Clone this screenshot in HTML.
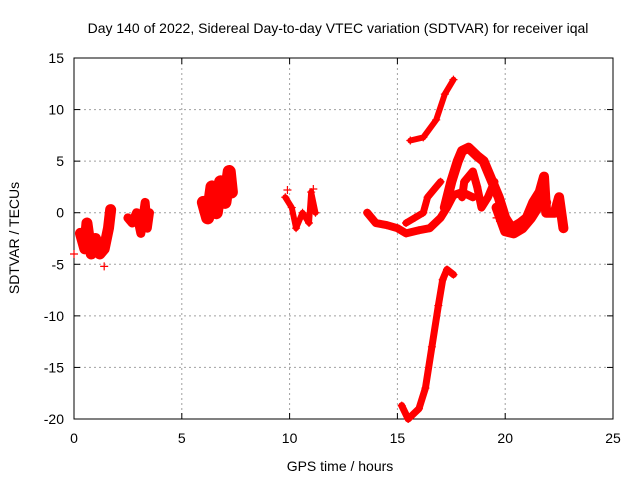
<!DOCTYPE html>
<html><head><meta charset="utf-8"><style>
body{margin:0;background:#fff}
svg{display:block;font-family:"Liberation Sans",sans-serif}
</style></head><body>
<svg id="c" width="640" height="480"></svg>
<script>
const xTicks=[0,5,10,15,20,25];
const yTicks=[15,10,5,0,-5,-10,-15,-20];
const early=[[0.3,-2],[0.5,-3.5],[0.6,-1],[0.8,-4],[1.0,-2.5],[1.2,-4],[1.4,-3.5],[1.6,-1.5],[1.7,0.3]];
const early2=[[2.5,-0.5],[2.7,-1],[2.9,0],[3.1,-2],[3.3,1],[3.4,-1.5],[3.5,0]];
const morning=[[6,1],[6.2,-0.5],[6.4,2.5],[6.6,0],[6.8,3],[7,1],[7.2,4],[7.3,2]];
const midday=[[9.8,1.5],[10.1,0.5],[10.3,-1.5],[10.6,0],[10.9,-1],[11,2],[11.2,0]];
const lowBand=[[13.6,0],[14,-1],[14.5,-1.2],[15,-1.5],[15.4,-2],[16,-1.7],[16.5,-1.5],[17,-0.5],[17.3,0.5],[17.6,1.7],[18,2],[18.5,1.5]];
const upperBand=[[15.4,-1],[15.8,-0.5],[16.2,0],[16.4,1.5],[16.8,2.5],[17,3]];
const mainArc=[[17.2,0.5],[17.5,3],[17.8,5],[18,6],[18.3,6.3],[18.7,5.5],[19,5],[19.4,3],[19.7,1.5],[20,-0.5],[20.3,-1.5],[20.7,-1],[21,-0.5],[21.3,1],[21.6,2],[21.8,3.5],[21.9,0],[22.3,0],[22.5,1.5],[22.7,-1.5]];
const lateBand=[[19.6,0.5],[20,-1.8],[20.4,-2],[20.8,-1.5],[21.2,-0.5],[21.5,0.5],[21.9,1]];
const innerLoop=[[18,1.5],[18.1,3],[18.5,4],[18.7,2.5],[18.9,0.5],[19.2,1.5],[19.5,3]];
const topArc=[[15.6,7],[16.2,7.3],[16.8,9],[17.2,11.5],[17.6,12.9]];
const deepArc=[[15.2,-18.7],[15.5,-20],[16,-19],[16.3,-17],[16.6,-13],[16.9,-9],[17.1,-6.5],[17.3,-5.5],[17.6,-6]];
const singles=[[0,-4],[1.4,-5.2],[9.9,2.2],[11.1,2.3],[19.6,-0.5]];
const series=[[early,11],[early2,9],[morning,13],[midday,6],[lowBand,8],[upperBand,7],[mainArc,10],[lateBand,10],[innerLoop,8],[topArc,6],[deepArc,7]];

const X0=74,X1=613,Y0=419,Y1=58;
const sx=h=>X0+(h-0)/25*(X1-X0);
const sy=v=>Y0-(v+20)/35*(Y0-Y1);
const svg=document.getElementById('c');const NS='http://www.w3.org/2000/svg';
function mk(t,a,p){const e=document.createElementNS(NS,t);for(const k in a)e.setAttribute(k,a[k]);(p||svg).appendChild(e);return e;}
xTicks.forEach(t=>{
 if(t>0&&t<25){const g=mk('line',{x1:sx(t),x2:sx(t),y1:Y1,y2:Y0,stroke:'#a0a0a0','stroke-dasharray':'2,3'});
 }
 const l=mk('text',{x:sx(t),y:Y0+24,'text-anchor':'middle','font-size':'14'});l.textContent=t;
 
 mk('line',{x1:sx(t),x2:sx(t),y1:Y0,y2:Y0-6,stroke:'#000'});mk('line',{x1:sx(t),x2:sx(t),y1:Y1,y2:Y1+6,stroke:'#000'});
});
yTicks.forEach(t=>{
 if(t>-20&&t<15){const g=mk('line',{x1:X0,x2:X1,y1:sy(t),y2:sy(t),stroke:'#a0a0a0','stroke-dasharray':'2,3'});
 }
 const l=mk('text',{x:X0-10,y:sy(t)+5,'text-anchor':'end','font-size':'14'});l.textContent=t;
 
 mk('line',{x1:X0,x2:X0+6,y1:sy(t),y2:sy(t),stroke:'#000'});mk('line',{x1:X1,x2:X1-6,y1:sy(t),y2:sy(t),stroke:'#000'});
});
const fr=mk('rect',{x:X0,y:Y1,width:X1-X0,height:Y0-Y1,fill:'none',stroke:'#000'});

function plus(h,v){const x=sx(h),y=sy(v);
 const p=mk('path',{d:`M${x-4},${y}h8M${x},${y-4}v8`,stroke:'#f00','stroke-width':'1.2'});
 }
series.forEach(([pts,w])=>{
 const pl=mk('polyline',{points:pts.map(p=>sx(p[0])+','+sy(p[1])).join(' '),fill:'none',stroke:'#f00','stroke-width':w,'stroke-linejoin':'round','stroke-linecap':'round'});
 
 pts.forEach(p=>plus(p[0],p[1]));
});
singles.forEach(p=>plus(p[0],p[1]));
const tt=mk('text',{x:338,y:33,'text-anchor':'middle','font-size':'14'});tt.textContent='Day 140 of 2022, Sidereal Day-to-day VTEC variation (SDTVAR) for receiver iqal';

const xt=mk('text',{x:340,y:471,'text-anchor':'middle','font-size':'14'});xt.textContent='GPS time / hours';

const yt=mk('text',{x:0,y:0,'text-anchor':'middle','font-size':'14',transform:'translate(19,238) rotate(-90)'});yt.textContent='SDTVAR / TECUs';

</script>
</body></html>
